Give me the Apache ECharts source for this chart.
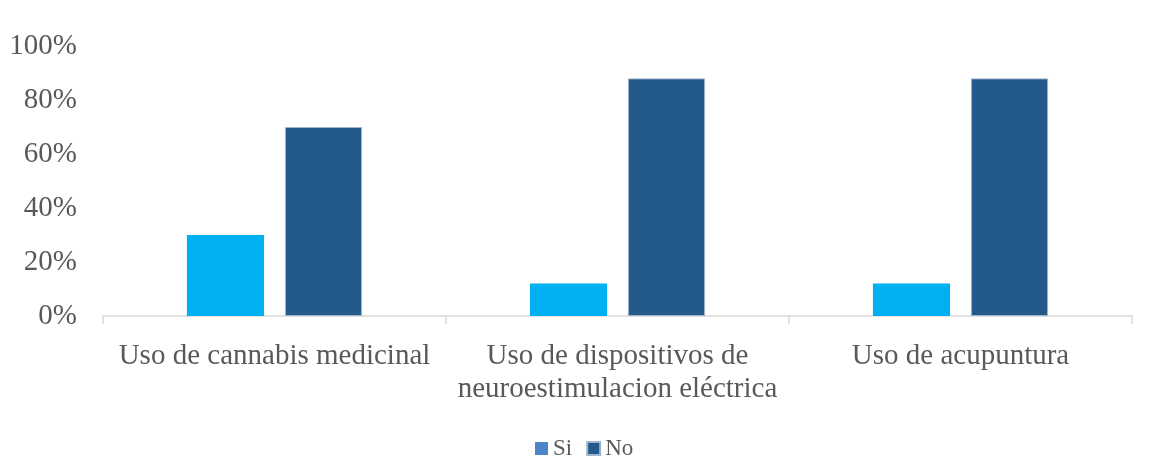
<!DOCTYPE html>
<html>
<head>
<meta charset="utf-8">
<script src="https://cdn.jsdelivr.net/npm/echarts@6/dist/echarts.min.js"></script>
<style>
  html, body { margin: 0; padding: 0; background: #fff; }
  #chart { width: 1156px; height: 459px; }
</style>
</head>
<body>
<div id="chart"></div>
<script>
// categories and values (percent)
const categories = ['Uso de cannabis medicinal', 'Uso de dispositivos de\nneuroestimulacion eléctrica', 'Uso de acupuntura']
const siValues = [30, 12, 12]
const noValues = [70, 88, 88]
const seriesNames = ['Si', 'No']

const chart = echarts.init(document.getElementById('chart'))
chart.setOption({
  animation: false,
  textStyle: { fontFamily: 'Liberation Serif' },
  grid: { left: 103, right: 24, top: 46, bottom: 143 },
  legend: {
    top: 432,
    left: 530,
    icon: 'rect',
    itemWidth: 13,
    itemHeight: 13,
    itemGap: 14,
    textStyle: { fontFamily: 'Liberation Serif', fontSize: 23, color: '#595959' },
    data: [
      { name: seriesNames[0], itemStyle: { color: '#4a86c8' } },
      { name: seriesNames[1], itemStyle: { color: '#245a8a' } }
    ]
  },
  xAxis: {
    type: 'category',
    data: categories,
    axisLine: { lineStyle: { color: '#d9d9d9', width: 1.5 } },
    axisTick: { show: true, length: 8, lineStyle: { color: '#d9d9d9', width: 1.5 } },
    axisLabel: { color: '#595959', fontSize: 29, lineHeight: 33, margin: 24, interval: 0 }
  },
  yAxis: {
    type: 'value',
    min: 0,
    max: 100,
    interval: 20,
    axisLine: { show: false },
    axisTick: { show: false },
    splitLine: { show: false },
    axisLabel: { color: '#595959', fontSize: 29, margin: 26, formatter: '{value}%' }
  },
  series: [
    { name: seriesNames[0], type: 'bar', data: siValues, barWidth: '22.5%', barGap: '27%',
      itemStyle: { color: '#00b0f0' } },
    { name: seriesNames[1], type: 'bar', data: noValues, barWidth: '22.5%',
      itemStyle: { color: '#245a8a', borderColor: '#9fb5cc', borderWidth: 1 } }
  ]
})
</script>
</body>
</html>
